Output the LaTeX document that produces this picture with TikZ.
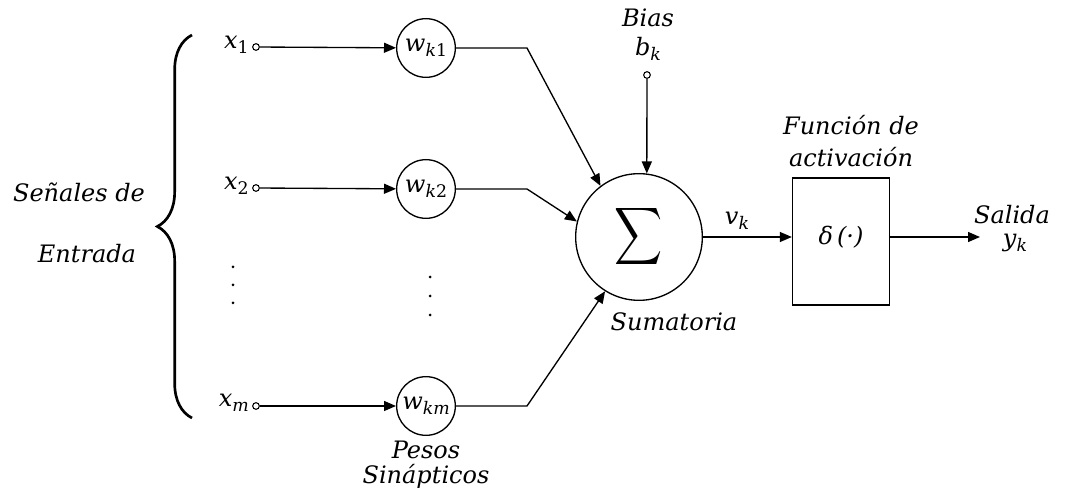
\documentclass[tikz,border=0pt]{standalone}
\usepackage{fontspec}
\usepackage{graphicx}
\setmainfont{DejaVu Serif}
\usetikzlibrary{arrows.meta,decorations.pathreplacing}
\newcommand\lab[2]{\textit{#1}\raisebox{-0.4ex}{\fontsize{13}{13}\selectfont #2}}
\begin{document}
\begin{tikzpicture}[x=0.75pt,y=-0.75pt,
  every node/.style={font=\fontsize{18}{21}\selectfont\itshape, inner sep=0pt},
  arr/.style={line width=1pt,-{Triangle[length=9pt,width=7.5pt]}},
  term/.style={circle,draw,line width=0.8pt,fill=white,minimum size=5pt},
  wnode/.style={circle,draw,line width=1pt,minimum size=44pt}]
\useasboundingbox (0,0) rectangle (1076,495);
% inputs
\node[term] (x1) at (256,47) {};
\node[term] (x2) at (256,188) {};
\node[term] (xm) at (256,406) {};
\node[anchor=east] (lx1) at (249,45) {\lab{x}{\upshape 1}};
\node[anchor=east] (lx2) at (249,186) {\lab{x}{\upshape 2}};
\node[anchor=east] (lxm) at (249,403) {\lab{x}{m}};
% weights
\node[wnode] (w1) at (426,48) {\lab{w}{k\upshape 1}};
\node[wnode] (w2) at (426,189) {\lab{w}{k\upshape 2}};
\node[wnode] (wm) at (426,406) {\lab{w}{km}};
% sum
\node[circle,draw,line width=1pt,minimum size=95pt] (sum) at (639,237) {\scalebox{2.5}[3]{$\displaystyle\sum$}};
% bias
\node (bias) at (648,18) {Bias};
\node (bk) at (648,49) {\lab{b}{k}};
\node[term] (b) at (647,75) {};
% activation box
\node[draw,line width=1pt,minimum width=72.75pt,minimum height=95.25pt] (box) at (841,241.5) {};
\node (delta) at (841,237) {\textit{δ}\,(·)};
\node (fun1) at (851,125) {Función de};
\node (fun2) at (851,157) {activación};
\node (vk) at (737,221) {\lab{v}{k}};
\node (sumat) at (674,322) {Sumatoria};
% output
\coordinate (out) at (980,237);
\node (sal) at (1012,215) {Salida};
\node (yk) at (1015,243) {\lab{y}{k}};
% left labels
\node (sen) at (79,192) {Señales de};
\node (ent) at (87,254) {Entrada};
\node (pes) at (426,450) {Pesos};
\node (sin) at (426,476) {Sinápticos};
% brace
\coordinate (brb) at (192,418);
\coordinate (brt) at (192,35);
\draw[line width=2pt,decorate,decoration={brace,amplitude=26pt}] (brb) -- (brt);
% dots
\foreach \y in {267,285,303} \fill (233,\y) circle (1.5);
\foreach \y in {277,296,315} \fill (430,\y) circle (1.5);
% connectors
\draw[arr] (x1) -- (w1);
\draw[arr] (x2) -- (w2);
\draw[arr] (xm) -- (wm);
\coordinate (c1) at (527,48);
\coordinate (c2) at (527,189);
\coordinate (cm) at (527,406);
\draw[arr] (w1.east) -- (c1) -- (sum.127);
\draw[arr] (w2.east) -- (c2) -- (sum.166);
\draw[arr] (wm.east) -- (cm) -- (sum.238);
\draw[arr] (b) -- (sum.83);
\draw[arr] (sum.east) -- (sum.east -| box.west);
\draw[arr] (box.east |- sum.east) -- (out);
\end{tikzpicture}
\end{document}
